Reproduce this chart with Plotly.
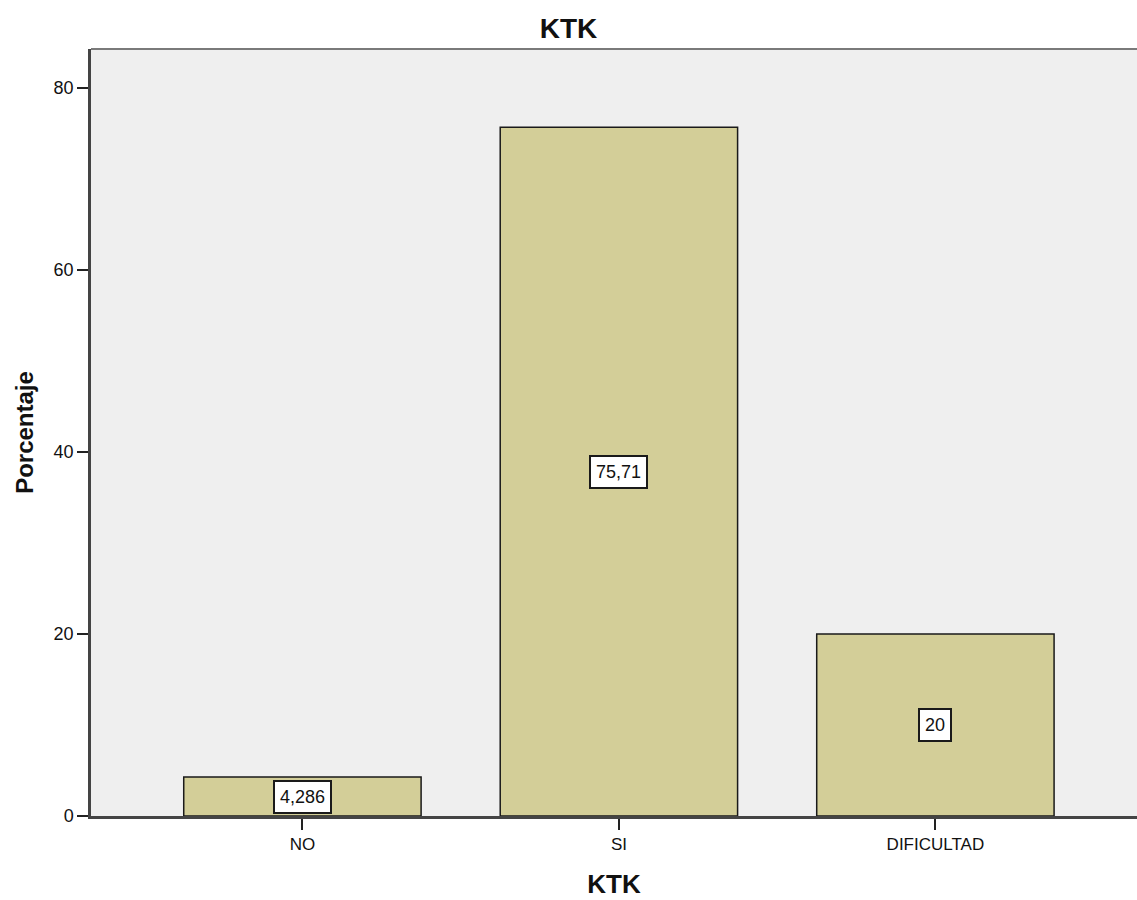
import plotly.graph_objects as go

# KTK response categories and their percentages
categories = ["NO", "SI", "DIFICULTAD"]
percentages = [4.286, 75.71, 20]
y_ticks = [0, 20, 40, 60, 80]


def fmt(v):
    # Spanish-style decimal comma, four significant digits
    return f"{v:.4g}".replace(".", ",")


FONT = "Liberation Sans, Arial, sans-serif"

fig = go.Figure()
fig.add_trace(
    go.Bar(
        x=categories,
        y=percentages,
        width=0.75,
        marker=dict(color="#d3ce98", line=dict(color="#1a1a1a", width=1.5)),
        hoverinfo="x+y",
    )
)

# value labels in white boxes, centred vertically in each bar
for c, v in zip(categories, percentages):
    fig.add_annotation(
        x=c,
        y=v / 2,
        text=fmt(v),
        showarrow=False,
        font=dict(family=FONT, size=18, color="#111"),
        bgcolor="white",
        bordercolor="#1a1a1a",
        borderwidth=2,
        borderpad=5,
    )

# top border of the plot frame
fig.add_shape(
    type="line", xref="paper", yref="paper",
    x0=0, x1=1, y0=1, y1=1,
    line=dict(color="#7a7a7a", width=2),
)

fig.update_layout(
    width=1137,
    height=900,
    margin=dict(l=91, r=0, t=49, b=84),
    paper_bgcolor="white",
    plot_bgcolor="#efefef",
    showlegend=False,
    title=dict(
        text="<b>KTK</b>",
        x=0.5, xref="container", xanchor="center",
        y=1 - 28 / 900, yref="container", yanchor="middle",
        font=dict(family=FONT, size=28, color="#111"),
    ),
    font=dict(family=FONT, color="#111"),
)

fig.update_xaxes(
    range=[-0.668, 2.637],
    showgrid=False,
    zeroline=False,
    showline=True,
    linecolor="#444",
    linewidth=2.5,
    ticks="outside",
    ticklen=11,
    tickwidth=2,
    tickcolor="#222",
    tickfont=dict(family=FONT, size=17, color="#111"),
    title=dict(text="<b>KTK</b>", font=dict(family=FONT, size=26, color="#111"), standoff=22),
)

fig.update_yaxes(
    range=[0, 84.3],
    tickvals=y_ticks,
    showgrid=False,
    zeroline=False,
    showline=True,
    linecolor="#444",
    linewidth=2.5,
    ticks="outside",
    ticklen=11,
    tickwidth=2,
    tickcolor="#222",
    tickfont=dict(family=FONT, size=18, color="#111"),
    title=dict(text="<b>Porcentaje</b>", font=dict(family=FONT, size=24, color="#111"), standoff=14),
)

fig.write_html("out.html")
